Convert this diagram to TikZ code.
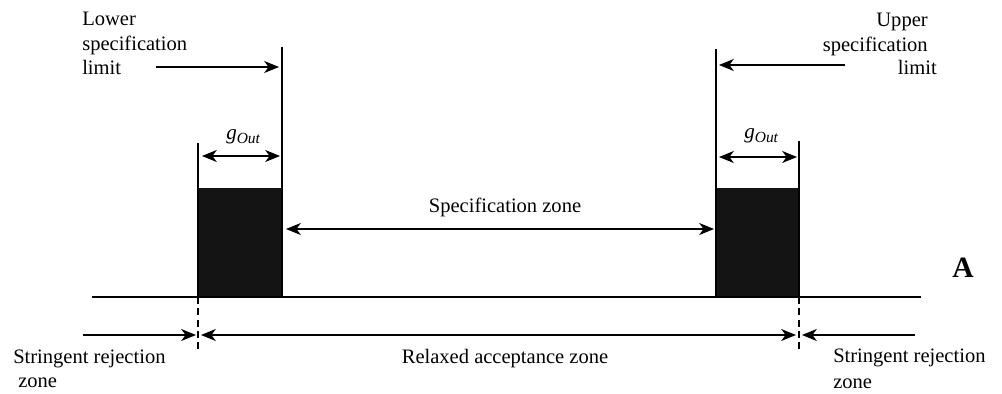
\documentclass[tikz,border=0pt]{standalone}
\usepackage{fontspec}
\setmainfont{Liberation Serif}
\usetikzlibrary{arrows.meta}
\begin{document}
\begin{tikzpicture}[x=0.025cm,y=-0.025cm,
  ln/.style={line width=1.1pt},
  tipr/.style={-{Stealth[length=0.37cm,width=0.3cm,inset=0.11cm]}},
  tipb/.style={{Stealth[length=0.37cm,width=0.3cm,inset=0.11cm]}-{Stealth[length=0.37cm,width=0.3cm,inset=0.11cm]}},
  lbl/.style={font=\fontsize{14.6}{17}\selectfont, inner sep=0pt},
  gout/.style={font=\fontsize{15}{17}\selectfont\itshape, inner sep=0pt, anchor=base west},
  blk/.style={fill=black!92, draw=none},
  dashln/.style={line width=1.1pt, dash pattern=on 5pt off 3pt},
]
\useasboundingbox (0,0) rectangle (1002,394);

% black boxes
\fill[blk] (198,188) rectangle (283,297);
\fill[blk] (716,188) rectangle (800,297);

% coordinates
\coordinate (LLt) at (198,143); \coordinate (LLb) at (198,297);
\coordinate (LRt) at (282,47);  \coordinate (LRb) at (282,297);
\coordinate (RLt) at (716,49);  \coordinate (RLb) at (716,297);
\coordinate (RRt) at (799,141); \coordinate (RRb) at (799,297);
\coordinate (B1) at (92,297);   \coordinate (B2) at (921,297);
\coordinate (DL) at (198,349);  \coordinate (DR) at (799,349);

% vertical lines and baseline
\draw[ln] (LLt) -- (LLb);
\draw[ln] (LRt) -- (LRb);
\draw[ln] (RLt) -- (RLb);
\draw[ln] (RRt) -- (RRb);
\draw[ln] (B1) -- (B2);
\draw[dashln] (LLb) -- (DL);
\draw[dashln] (RRb) -- (DR);

% labels
\node[lbl, anchor=base west] (low1) at (82,26) {Lower};
\node[lbl, anchor=base west] (low2) at (82,51) {specification};
\node[lbl, anchor=base west] (low3) at (82,75) {limit};

\node[lbl, anchor=base east] (up1) at (928,27) {Upper};
\node[lbl, anchor=base east] (up2) at (928,52) {specification};
\node[lbl, anchor=base east] (up3) at (937,75) {limit};

\node[gout] (g1) at (226,140) {g\raisebox{-0.35ex}{\fontsize{11}{11}\selectfont Out}};
\node[gout] (g2) at (744,139) {g\raisebox{-0.35ex}{\fontsize{11}{11}\selectfont Out}};

\node[lbl, anchor=base] (spec) at (505,212) {Specification zone};
\node[lbl, anchor=base] (relax) at (505,363) {Relaxed acceptance zone};

\node[lbl, anchor=base west] (sl1) at (13,363) {Stringent rejection};
\node[lbl, anchor=base west] (sl2) at (18,387) {zone};
\node[lbl, anchor=base west] (sr1) at (833,362) {Stringent rejection};
\node[lbl, anchor=base west] (sr2) at (833,388) {zone};

\node[inner sep=0pt, anchor=base west, font=\fontsize{21}{24}\selectfont\bfseries] (A) at (952,277) {A};

% arrow coordinates
\coordinate (a1s) at (156,67);  \coordinate (a1e) at (279,67);
\coordinate (a2s) at (845,65);  \coordinate (a2e) at (719,65);
\coordinate (g1s) at (202,156); \coordinate (g1e) at (280,156);
\coordinate (g2s) at (719,157); \coordinate (g2e) at (797,157);
\coordinate (sps) at (286,229); \coordinate (spe) at (714,229);
\coordinate (b1s) at (83,335);  \coordinate (b1e) at (196,335);
\coordinate (b2s) at (201,335); \coordinate (b2e) at (796,335);
\coordinate (b3s) at (915,335); \coordinate (b3e) at (802,335);

\draw[ln,tipr] (a1s) -- (a1e);
\draw[ln,tipr] (a2s) -- (a2e);
\draw[ln,tipb] (g1s) -- (g1e);
\draw[ln,tipb] (g2s) -- (g2e);
\draw[ln,tipb] (sps) -- (spe);
\draw[ln,tipr] (b1s) -- (b1e);
\draw[ln,tipb] (b2s) -- (b2e);
\draw[ln,tipr] (b3s) -- (b3e);
\end{tikzpicture}
\end{document}
